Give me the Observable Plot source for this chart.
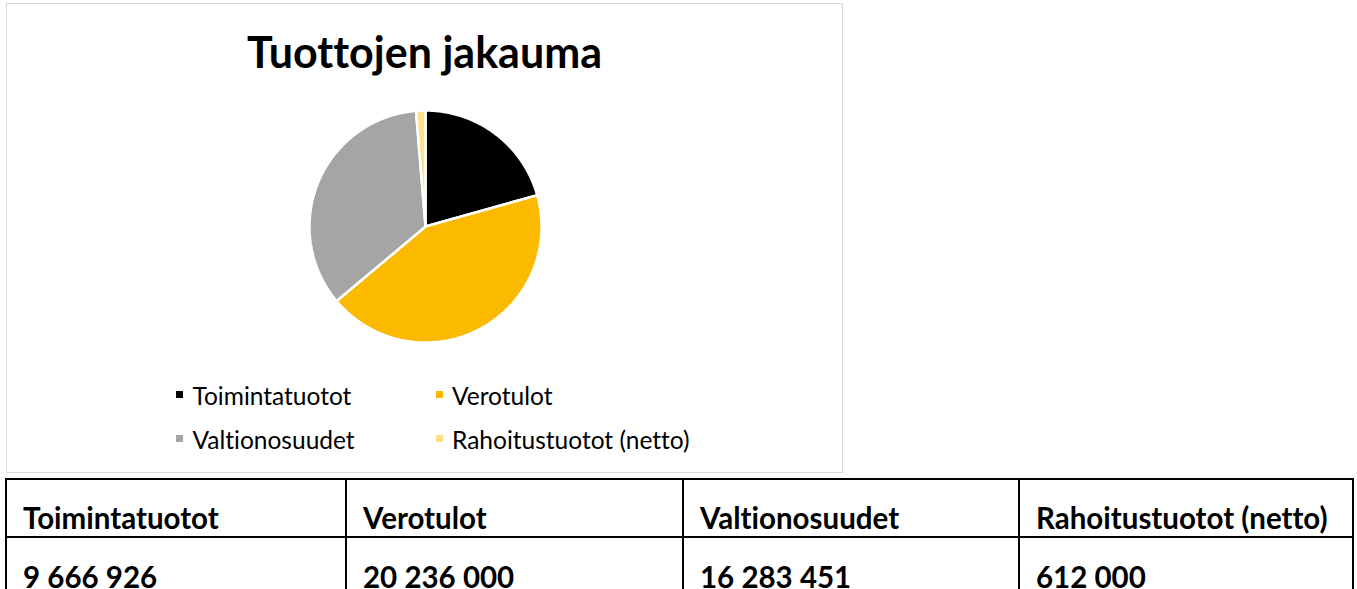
<!DOCTYPE html>
<html><head><meta charset="utf-8">
<script src="https://cdn.jsdelivr.net/npm/d3@7"></script>
<script src="https://cdn.jsdelivr.net/npm/@observablehq/plot@0.6"></script>
<style>
html,body{margin:0;padding:0;background:#fff;}
body{width:1357px;height:589px;position:relative;overflow:hidden;font-family:Lato,"Open Sans",sans-serif;color:#000;font-variant-ligatures:none;font-feature-settings:"liga" 0;}
#box{position:absolute;left:6px;top:3px;width:835px;height:468px;border:1.5px solid #d9d9d9;box-sizing:content-box;}
#title{position:absolute;left:6px;width:837px;top:30px;text-align:center;font-weight:700;font-size:43px;line-height:43px;white-space:nowrap;}
#pie{position:absolute;left:304.5px;top:106px;}
.lg-mark{position:absolute;width:7px;height:7px;}
.lg-text{position:absolute;font-size:24.5px;line-height:24.5px;white-space:nowrap;}
#tbl{position:absolute;left:5px;top:478px;border-collapse:collapse;table-layout:fixed;width:1347px;}
#tbl td{border:2px solid #000;padding:0 0 0 16px;vertical-align:top;font-weight:700;font-size:29.5px;line-height:28px;white-space:nowrap;overflow:visible;}
#tbl tr.h td{height:32px;padding-top:23.5px;}
#tbl tr.v td{height:60px;padding-top:25.5px;}
</style>
</head><body>
<div id="box"></div>
<div id="title"></div>
<div id="pie"></div>
<div id="legend"></div>
<table id="tbl"><colgroup><col style="width:340px"><col style="width:337px"><col style="width:336px"><col style="width:334px"></colgroup><tbody><tr class="h"></tr><tr class="v"></tr></tbody></table>
<script>
const categories = ["Toimintatuotot", "Verotulot", "Valtionosuudet", "Rahoitustuotot (netto)"];
const values = [9666926, 20236000, 16283451, 612000];
const valueLabels = ["9 666 926", "20 236 000", "16 283 451", "612 000"];
const colors = ["#000000", "#FBBA00", "#A5A5A5", "#FFE08A"];
const chartTitle = "Tuottojen jakauma";

document.getElementById("title").textContent = chartTitle;

// pie geometry from the values (clockwise from 12 o'clock, like Excel)
const arcs = d3.pie().sort(null).startAngle(0).endAngle(2 * Math.PI)(values);
const pts = [];
arcs.forEach((a, i) => {
  const cat = categories[i];
  pts.push({cat, x: 0, y: 0});
  const n = Math.max(2, Math.ceil((a.endAngle - a.startAngle) / (Math.PI / 360)));
  for (let k = 0; k <= n; k++) {
    const t = a.startAngle + (a.endAngle - a.startAngle) * k / n;
    pts.push({cat, x: Math.sin(t), y: Math.cos(t)});
  }
});

const pie = Plot.plot({
  width: 240, height: 240,
  margin: 4,
  x: {domain: [-1, 1], axis: null},
  y: {domain: [-1, 1], axis: null},
  color: {domain: categories, range: colors},
  marks: [
    Plot.line(pts, {x: "x", y: "y", z: "cat", fill: "cat", stroke: "white", strokeWidth: 2.5, curve: "linear-closed", strokeLinejoin: "miter"})
  ]
});
document.getElementById("pie").appendChild(pie);

// legend
const lg = document.getElementById("legend");
const colX = [175.5, 435.5], textX = [192.5, 452], rowY = [391, 435], rowT = [383.5, 427.5];
categories.forEach((c, i) => {
  const col = i % 2, row = Math.floor(i / 2);
  const m = document.createElement("div");
  m.className = "lg-mark";
  m.style.left = colX[col] + "px"; m.style.top = rowY[row] + "px";
  m.style.background = colors[i];
  lg.appendChild(m);
  const t = document.createElement("div");
  t.className = "lg-text";
  t.style.left = textX[col] + "px"; t.style.top = rowT[row] + "px";
  t.textContent = c;
  lg.appendChild(t);
});

// table
const trs = document.querySelectorAll("#tbl tr");
categories.forEach((c, i) => {
  const td = document.createElement("td"); td.textContent = c; trs[0].appendChild(td);
  const td2 = document.createElement("td"); td2.textContent = valueLabels[i]; trs[1].appendChild(td2);
});
</script>
</body></html>
